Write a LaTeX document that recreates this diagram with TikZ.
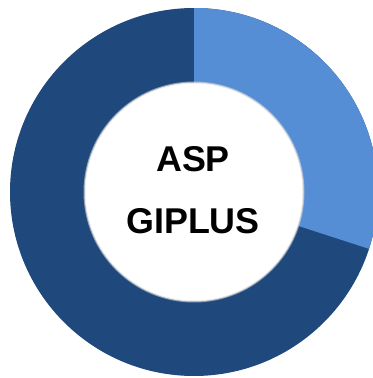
\documentclass[tikz,border=0pt]{standalone}
\usepackage{fontspec}
\newfontfamily\ringfont{Liberation Sans}
\usetikzlibrary{calc}

\definecolor{ringlight}{RGB}{85,142,213}
\definecolor{ringdark}{RGB}{31,73,125}

\begin{document}
\begin{tikzpicture}

\tikzset{
    slice/.style={draw=none,fill=#1},
    word/.style={font=\ringfont\bfseries\fontsize{10.2}{12}\selectfont,inner sep=0pt}}

\useasboundingbox (0,0) rectangle (3.73,3.78);

\coordinate (O) at (1.94,1.86);

% outer ring
\fill[slice=ringdark] (O) -- ++(90:1.84) arc (90:-270:1.84) -- cycle;
\fill[slice=ringlight] (O) -- ++(90:1.84) arc (90:-18:1.84) -- cycle;

% hole, with a soft edge
\fill[black!15,opacity=0.6] (O) circle (1.105);
\fill[black!10] (O) circle (1.095);
\fill[white] (O) circle (1.085);

\node[word] (asp) at (1.93,2.19) {ASP};
\node[word] (giplus) at (1.93,1.57) {GIPLUS};

\end{tikzpicture}
\end{document}
